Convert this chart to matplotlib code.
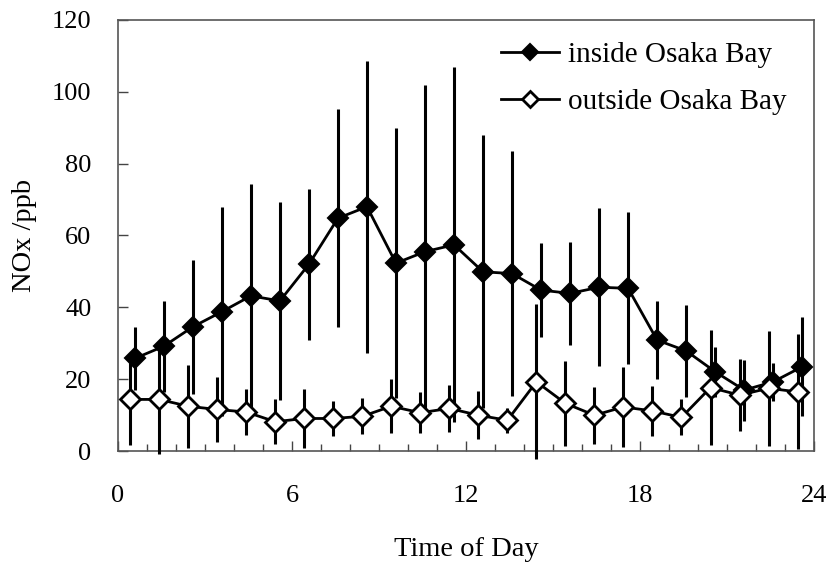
import numpy as np
import matplotlib
matplotlib.use("Agg")
import matplotlib.pyplot as plt
from matplotlib.ticker import MultipleLocator

plt.rcParams['font.family'] = ['Liberation Serif', 'DejaVu Serif']

hours = np.arange(24) + 0.5

inside_mean = [25.8, 29.2, 34.6, 38.8, 43.2, 41.8, 52.0, 64.8, 68.0, 52.3, 55.5, 57.4,
               49.9, 49.4, 44.8, 43.9, 45.6, 45.3, 30.9, 27.9, 22.1, 17.0, 19.3, 23.5]
inside_err = [8.8, 12.7, 18.7, 29.0, 31.0, 27.5, 21.0, 30.3, 40.6, 37.6, 46.3, 49.4,
              38.0, 34.0, 13.0, 14.4, 22.0, 21.1, 10.9, 12.8, 6.9, 8.5, 5.3, 13.7]

outside_mean = [14.4, 14.4, 12.5, 11.6, 10.9, 8.2, 9.1, 9.1, 9.7, 12.5, 10.7, 11.9,
                10.0, 8.6, 19.3, 13.3, 10.0, 12.3, 11.2, 9.4, 17.7, 15.6, 17.5, 16.5]
outside_err = [12.7, 15.2, 11.6, 9.0, 6.4, 6.3, 8.3, 5.0, 5.0, 7.5, 5.7, 6.5,
               6.7, 3.5, 21.6, 11.8, 7.9, 11.0, 7.0, 5.0, 16.0, 10.0, 16.0, 16.0]

shift = 0.08

fig = plt.figure(figsize=(8.31, 5.64), dpi=100)
ax = fig.add_axes([0.142, 0.2, 0.838, 0.765])

x_in = hours + shift
x_out = hours - shift

# error bars run past the axis line in the original, so no clipping
eb = ax.errorbar(x_in, inside_mean, yerr=inside_err, fmt='none', ecolor='black',
                 elinewidth=2.2, capsize=0, zorder=2)
for c in eb[2]:
    c.set_clip_on(False)
ax.plot(x_in, inside_mean, color='black', lw=2, marker='D', ms=10,
        mfc='black', mec='black', mew=1.5, label='inside Osaka Bay', zorder=3)

eb = ax.errorbar(x_out, outside_mean, yerr=outside_err, fmt='none', ecolor='black',
                 elinewidth=2.2, capsize=0, zorder=4)
for c in eb[2]:
    c.set_clip_on(False)
ax.plot(x_out, outside_mean, color='black', lw=2, marker='D', ms=10,
        mfc='white', mec='black', mew=2, label='outside Osaka Bay', zorder=5)

ax.set_xlim(0, 24)
ax.set_ylim(0, 120)
ax.xaxis.set_major_locator(MultipleLocator(6))
ax.xaxis.set_minor_locator(MultipleLocator(1))
ax.yaxis.set_major_locator(MultipleLocator(20))

ax.tick_params(axis='both', which='both', direction='in', colors='#444444',
               labelcolor='black', labelsize=19)
ax.tick_params(axis='both', which='major', length=7, width=1)
ax.tick_params(axis='x', which='minor', length=5, width=1)
ax.tick_params(axis='x', which='major', pad=24)
ax.tick_params(axis='y', which='major', pad=19)
for s in ax.spines.values():
    s.set_color('#555555')
    s.set_linewidth(1.2)

ax.set_xlabel('Time of Day', fontsize=20.5, labelpad=22)
ax.set_ylabel('NOx /ppb', fontsize=20.5, labelpad=11)

ax.legend(loc='upper right', bbox_to_anchor=(0.977, 0.976), frameon=False,
          fontsize=21, handlelength=2.0, handletextpad=0.3, labelspacing=0.7,
          borderaxespad=0, markerscale=0.85)

fig.savefig('out.png', dpi=100)
